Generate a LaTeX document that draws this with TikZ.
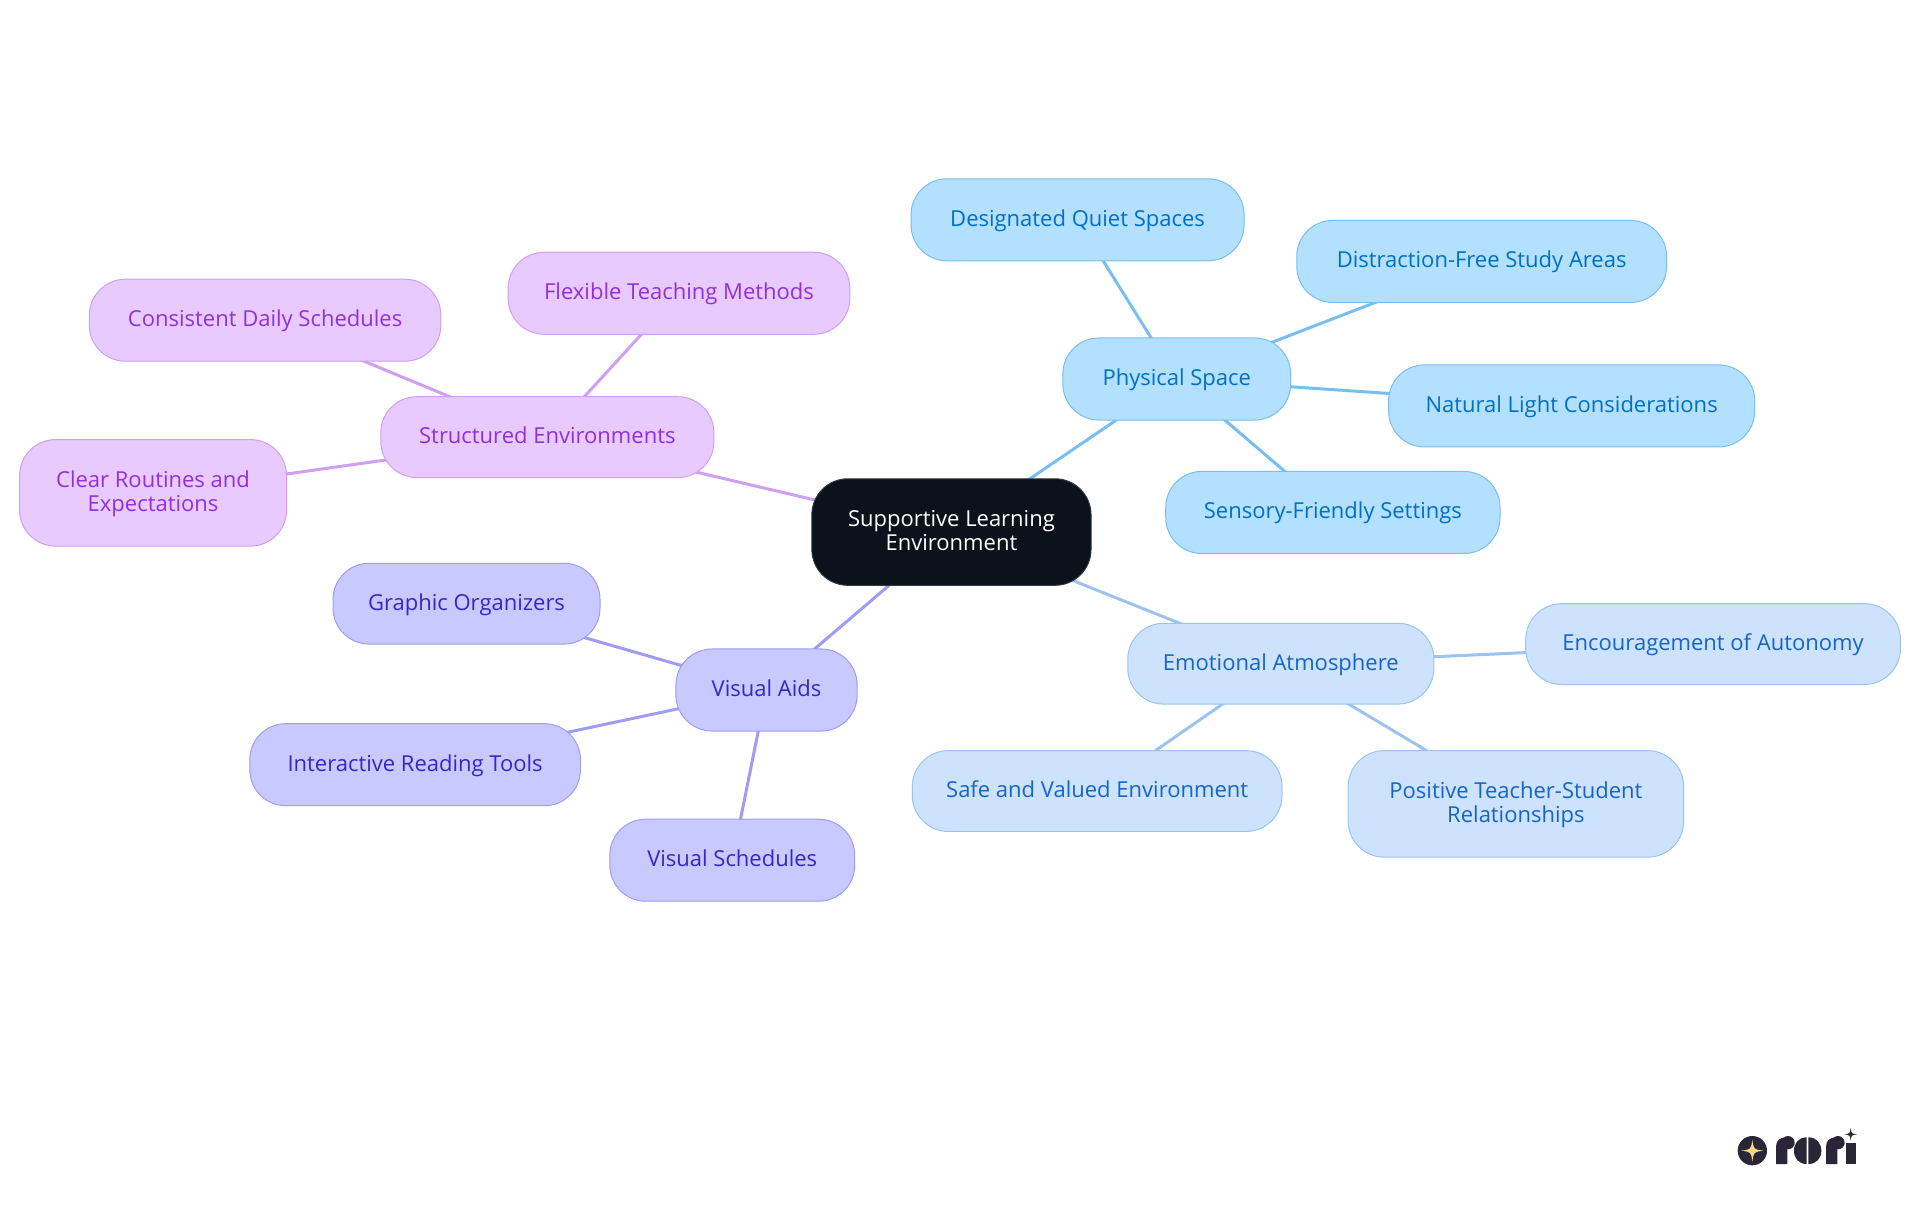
\documentclass[tikz,border=0pt]{standalone}
\usepackage{fontspec}
\setmainfont{Open Sans}
\usetikzlibrary{backgrounds}
\definecolor{cDark}{HTML}{0B121B}
\definecolor{aFill}{HTML}{B3E0FF}\definecolor{aLine}{HTML}{78BEF0}\definecolor{aText}{HTML}{0070C4}
\definecolor{bFill}{HTML}{CCE2FD}\definecolor{bLine}{HTML}{9CC3F0}\definecolor{bText}{HTML}{1565C8}
\definecolor{dFill}{HTML}{C8CAFF}\definecolor{dLine}{HTML}{A09CF2}\definecolor{dText}{HTML}{3526CC}
\definecolor{eFill}{HTML}{E8CAFF}\definecolor{eLine}{HTML}{CFA0F2}\definecolor{eText}{HTML}{9030DC}
\definecolor{logoInk}{HTML}{2A2638}\definecolor{logoStar}{HTML}{F7D684}
\tikzset{
 pill/.style={rounded corners=36pt,inner sep=0pt,line width=1pt,align=center,font=\fontsize{22}{24.4}\selectfont},
 pa/.style={pill,draw=aLine,fill=aFill,text=aText},
 pb/.style={pill,draw=bLine,fill=bFill,text=bText},
 pd/.style={pill,draw=dLine,fill=dFill,text=dText},
 pe/.style={pill,draw=eLine,fill=eFill,text=eText},
 pc/.style={pill,draw=cDark!85!white,fill=cDark,text=white},
 la/.style={line width=3pt,aLine},
 lb/.style={line width=3pt,bLine},
 ld/.style={line width=3pt,dLine},
 le/.style={line width=3pt,eLine},
 ink/.style={fill=logoInk,draw=none},
}
% name, style, x0, x1, y0, y1, text  (coordinates on a 1568-wide grid)
\newcommand{\mapnode}[7]{%
 \pgfmathsetmacro{\mx}{(#3+#4)/2*1.2245}\pgfmathsetmacro{\my}{-(#5+#6)/2*1.2245}%
 \pgfmathsetmacro{\mw}{(#4-#3)*1.2245}\pgfmathsetmacro{\mh}{(#6-#5)*1.2245}%
 \node[#2,minimum width=\mw pt,minimum height=\mh pt] (#1) at (\mx pt,\my pt) {\rule{0pt}{18.2pt}#7\vphantom{g}};}
\newcommand{\sparkle}[4]{% cx, cy, radius, colour
 \fill[#4] (#1,#2+#3) .. controls (#1+0.12*#3,#2+0.12*#3) .. (#1+#3,#2)
   .. controls (#1+0.12*#3,#2-0.12*#3) .. (#1,#2-#3)
   .. controls (#1-0.12*#3,#2-0.12*#3) .. (#1-#3,#2)
   .. controls (#1-0.12*#3,#2+0.12*#3) .. cycle;}
\begin{document}
\begin{tikzpicture}[x=1pt,y=1pt]
\useasboundingbox (0,0) rectangle (1920,-1215);
\mapnode{c}{pc}{663}{891}{391}{478}{Supportive Learning\\Environment}
\mapnode{a}{pa}{868}{1054}{276}{343}{Physical Space}
\mapnode{a1}{pa}{744}{1016}{146}{213}{Designated Quiet Spaces}
\mapnode{a2}{pa}{1059}{1361}{180}{247}{Distraction-Free Study Areas}
\mapnode{a3}{pa}{1134}{1433}{298}{365}{Natural Light Considerations}
\mapnode{a4}{pa}{952}{1225}{385}{452}{Sensory-Friendly Settings}
\mapnode{b}{pb}{921}{1171}{509}{575}{Emotional Atmosphere}
\mapnode{b1}{pb}{1246}{1552}{493}{559}{Encouragement of Autonomy}
\mapnode{b2}{pb}{745}{1047}{613}{679}{Safe and Valued Environment}
\mapnode{b3}{pb}{1101}{1375}{613}{700}{Positive Teacher-Student\\Relationships}
\mapnode{d}{pd}{552}{700}{530}{597}{Visual Aids}
\mapnode{d1}{pd}{272}{490}{460}{526}{Graphic Organizers}
\mapnode{d2}{pd}{204}{474}{591}{658}{Interactive Reading Tools}
\mapnode{d3}{pd}{498}{698}{669}{736}{Visual Schedules}
\mapnode{e}{pe}{311}{583}{324}{390}{Structured Environments}
\mapnode{e1}{pe}{415}{694}{206}{273}{Flexible Teaching Methods}
\mapnode{e2}{pe}{73}{360}{228}{295}{Consistent Daily Schedules}
\mapnode{e3}{pe}{16}{234}{359}{446}{Clear Routines and\\Expectations}
\begin{scope}[on background layer]
\draw[la] (c.center) -- (a.center);
\foreach \t in {a1,a2,a3,a4} \draw[la] (a.center) -- (\t.center);
\draw[lb] (c.center) -- (b.center);
\foreach \t in {b1,b2,b3} \draw[lb] (b.center) -- (\t.center);
\draw[ld] (c.center) -- (d.center);
\foreach \t in {d1,d2,d3} \draw[ld] (d.center) -- (\t.center);
\draw[le] (c.center) -- (e.center);
\foreach \t in {e1,e2,e3} \draw[le] (e.center) -- (\t.center);
\end{scope}
% logo
\begin{scope}[shift={(1700pt,-1100pt)},x=0.3333pt,y=-0.3333pt]
\fill[logoInk] (157,152) circle (44);
\sparkle{157}{152}{33}{logoStar}
% r
\fill[ink] (228,192) -- (228,140) .. controls (228,122) and (240,112) .. (258,112) -- (262,112) -- (262,192) -- cycle;
\fill[ink] (264,128) circle (20);
% o
\fill[ink] (320,112) .. controls (295,112) and (282,130) .. (282,152) .. controls (282,174) and (295,192) .. (320,192) -- cycle;
\fill[ink] (325,112) .. controls (350,112) and (364,130) .. (364,152) .. controls (364,174) and (350,192) .. (325,192) -- cycle;
% r
\fill[ink] (378,192) -- (378,140) .. controls (378,122) and (390,112) .. (408,112) -- (412,112) -- (412,192) -- cycle;
\fill[ink] (414,128) circle (20);
% i
\fill[ink] (437,128) -- (468,128) -- (468,192) -- (437,192) -- cycle;
\sparkle{452}{103}{19}{logoInk}
\end{scope}
\end{tikzpicture}
\end{document}
